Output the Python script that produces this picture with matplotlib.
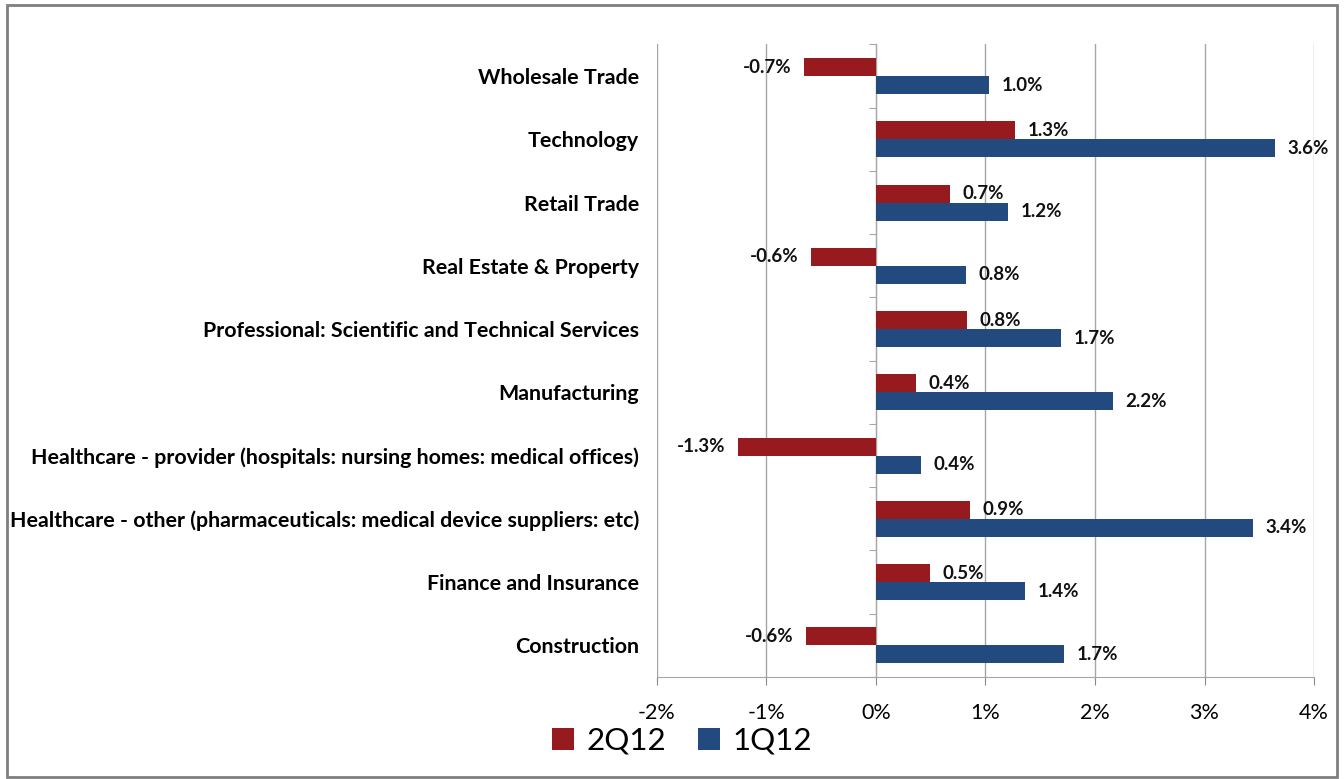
import matplotlib.pyplot as plt
from matplotlib.patches import Rectangle
import numpy as np

plt.rcParams['font.family'] = ['Lato', 'DejaVu Sans']

sectors = [
    'Wholesale Trade',
    'Technology',
    'Retail Trade',
    'Real Estate & Property',
    'Professional: Scientific and Technical Services',
    'Manufacturing',
    'Healthcare - provider (hospitals: nursing homes: medical offices)',
    'Healthcare - other (pharmaceuticals: medical device suppliers: etc)',
    'Finance and Insurance',
    'Construction',
]
q2_12 = [-0.66, 1.27, 0.68, -0.59, 0.83, 0.37, -1.26, 0.86, 0.49, -0.64]
q1_12 = [1.03, 3.64, 1.21, 0.82, 1.69, 2.16, 0.41, 3.44, 1.36, 1.72]
xticks = [-2, -1, 0, 1, 2, 3, 4]

red = '#971A1F'
blue = '#224A7E'

fig = plt.figure(figsize=(13.44, 7.79), dpi=100)
ax = fig.add_axes([0.4888, 0.131, 0.4889, 0.812])

y = np.arange(len(sectors))
h = 0.285
b2 = ax.barh(y - h / 2, q2_12, height=h, color=red, label='2Q12', zorder=3)
b1 = ax.barh(y + h / 2, q1_12, height=h, color=blue, label='1Q12', zorder=3)

for bars, vals in ((b2, q2_12), (b1, q1_12)):
    for bar, v in zip(bars, vals):
        yc = bar.get_y() + bar.get_height() / 2
        off = 9 if v >= 0 else -9
        ax.annotate(f'{v:.1f}%', (v, yc), xytext=(off, 0), textcoords='offset points',
                    ha='left' if v >= 0 else 'right', va='center',
                    fontsize=13.5, fontweight='bold', color='#111111')

ax.set_xlim(-2, 4)
ax.set_ylim(len(sectors) - 0.5, -0.5)
ax.set_xticks(xticks)
ax.set_xticklabels([f'{t}%' for t in xticks], fontsize=15.5)
ax.tick_params(axis='x', length=6, color='#888888', pad=13)
ax.set_yticks(y)
ax.set_yticklabels(sectors, fontsize=15.4, fontweight='bold')
ax.tick_params(axis='y', length=0, pad=13)
ax.grid(axis='x', color='#A6A6A6', linewidth=1, zorder=0)

for s in ('top', 'right', 'left'):
    ax.spines[s].set_visible(False)
ax.spines['bottom'].set_color('#A6A6A6')

# category axis sits on the zero line
zero_axis = ax.secondary_yaxis(1 / 3)
zero_axis.set_yticks(np.arange(len(sectors) + 1) - 0.5)
zero_axis.set_yticklabels([])
zero_axis.tick_params(length=5, color='#A6A6A6')
zero_axis.spines['left'].set_color('#BFBFBF')

fig.legend(handles=[b2, b1], loc='center left', bbox_to_anchor=(0.39, 0.049),
           ncol=2, frameon=False, fontsize=22.5, handlelength=0.7, handleheight=0.7,
           handletextpad=0.4, columnspacing=1.0)

fig.patches.append(Rectangle((0.005, 0.003), 0.99, 0.99, transform=fig.transFigure,
                             fill=False, edgecolor='#7F7F7F', linewidth=2))

fig.savefig('out.png', dpi=100)
